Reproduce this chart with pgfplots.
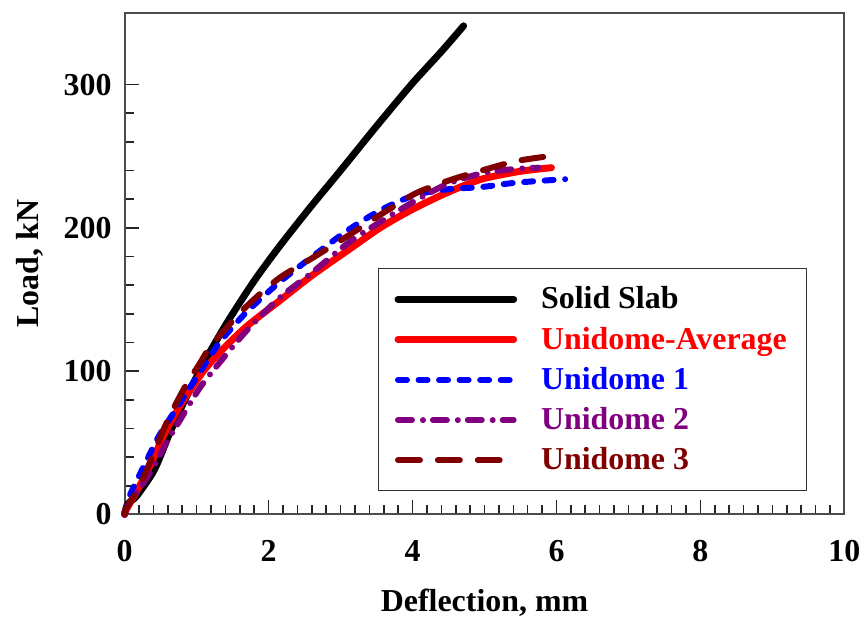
\documentclass[border=0pt]{standalone}
\usepackage{pgfplots}
\pgfplotsset{compat=1.18}
\usepackage{fontspec}
\setmainfont{Liberation Serif}
\definecolor{maroonc}{RGB}{128,0,0}
\definecolor{purplec}{RGB}{128,0,128}
\definecolor{bluec}{RGB}{0,0,255}
\begin{document}
\begin{tikzpicture}
\begin{axis}[
 scale only axis, width=361pt, height=251.5pt,
 xmin=0, xmax=10, ymin=0, ymax=350,
 xtick={0,2,...,10}, ytick={0,100,200,300},
 minor x tick num=9, minor y tick num=4,
 tick align=inside, xtick pos=bottom, ytick pos=left,
 major tick length=7pt, minor tick length=4.5pt,
 axis line style={black!70, line width=1pt},
 every tick/.style={black!85, line width=0.8pt},
 /pgf/number format/assume math mode=true,
 ticklabel style={font=\fontsize{16}{19}\selectfont\bfseries},
 xticklabel style={yshift=-9.5pt},
 yticklabel style={xshift=-3pt},
 xlabel={Deflection, mm}, ylabel={Load, kN},
 label style={font=\fontsize{16}{19}\selectfont\bfseries},
 xlabel style={at={(axis description cs:0.5,-0.177)}, anchor=center},
 ylabel style={at={(axis description cs:-0.1316,0.5)}, anchor=center},
 legend style={at={(axis description cs:0.352,0.0457)}, anchor=south west,
   draw=black!80, line width=0.6pt,
   font=\fontsize{16}{19}\selectfont\bfseries,
   cells={anchor=west}, inner xsep=8pt, inner ysep=7pt, row sep=3.6pt,
   /tikz/column 2/.style={column sep=0pt}, /tikz/column 1/.style={column sep=10pt}},
 legend image code/.code={\draw[#1, line cap=round] (0pt,0pt) -- (58pt,0pt);},
 clip=false,
 every axis plot/.append style={smooth, tension=0.45, line join=round},
]
\addplot[black, line width=3.5pt, line cap=round] coordinates {
(0,0)(0.04,7)(0.17,13)(0.39,29)(0.5,41)(0.62,56)(0.81,77)(0.99,95)(1.18,113)(1.45,136)(1.8,163)(2.15,187)(2.59,215)(3.0,240)(3.5,271)(4.0,301)(4.4,323)(4.71,341)};
\addlegendentry{Solid Slab}
\addplot[red, line width=3.5pt, line cap=round] coordinates {
(0,0)(0.02,3)(0.21,20)(0.39,38)(0.58,59)(0.81,79)(1.08,99)(1.32,113)(1.69,131)(2.15,149)(2.61,167)(3.12,185)(3.58,201)(4.04,214)(4.5,225)(4.96,234)(5.5,239.5)(5.93,242)};
\addlegendentry{\textcolor{red}{Unidome-Average}}
\addplot[bluec, line width=3pt, line cap=round, dash pattern=on 4.5pt off 5.8pt] coordinates {
(0,0)(0.07,13)(0.30,37)(0.48,55)(0.76,77)(0.99,95)(1.32,120)(1.69,141)(2.15,162)(2.61,180)(3.12,199)(3.58,213)(4.04,223)(4.5,227)(4.96,228.5)(5.43,231.5)(6.12,234)};
\addlegendentry{\textcolor{bluec}{Unidome 1}}
\addplot[purplec, line width=3pt, line cap=round, dash pattern=on 7pt off 5.5pt on 0pt off 5pt] coordinates {
(0,0)(0.02,4)(0.21,18)(0.39,32)(0.58,50)(0.76,65)(1.04,88)(1.32,106)(1.69,128)(2.15,151)(2.61,169)(3.12,190)(3.58,205)(4.04,219)(4.5,231)(4.96,238)(5.4,241)(5.75,242)};
\addlegendentry{\textcolor{purplec}{Unidome 2}}
\addplot[maroonc, line width=3pt, line cap=round, dash pattern=on 11pt off 9pt] coordinates {
(0,0)(0.02,4)(0.21,20)(0.39,41)(0.53,58)(0.67,73)(0.85,90)(1.04,105)(1.22,119)(1.69,145)(2.15,165)(2.61,179)(3.12,195)(3.58,210)(4.04,224)(4.5,233)(4.96,240)(5.43,246.5)(5.89,250)};
\addlegendentry{\textcolor{maroonc}{Unidome 3}}
\end{axis}
\path (current axis.south west) ++(-62.5pt,-53.5pt) rectangle ++(433.5pt,311.5pt);
\end{tikzpicture}
\end{document}
